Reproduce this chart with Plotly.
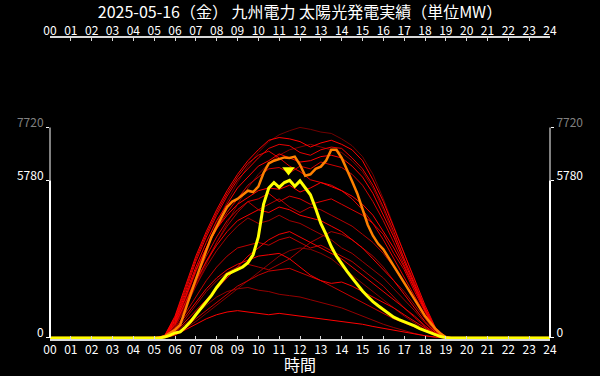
import plotly.graph_objects as go

# ---------------- data ----------------
hours = list(range(25))
hour_labels = [f"{h:02d}" for h in hours]

# half-hourly samples 05:00 .. 19:30 for past days (red lines)
t_half = [5.0 + 0.5 * i for i in range(30)]
# quarter-hourly samples 05:00 .. 19:30 for today / highlighted day
t_quarter = [5.0 + 0.25 * i for i in range(59)]

past_days = [
    [0,40,500,1400,2400,3300,4200,5000,5700,6300,6800,7200,7450,7600,7720,7650,7550,7500,7300,7050,6650,6000,5100,4100,3100,2100,1100,300,20,0],
    [0,30,400,1100,1900,2700,3500,4200,4900,5500,6000,6400,6700,6900,7000,7100,7000,6900,6800,6500,6100,5500,4700,3800,2900,2000,1100,320,20,0],
    [0,10,120,350,600,900,1200,1500,1800,2100,2400,2700,3000,3200,3300,3250,3100,2900,2600,2300,2000,1700,1400,1100,800,550,300,100,5,0],
    [0,15,180,500,850,1200,1500,1700,1800,1850,1750,1700,1600,1550,1500,1400,1300,1200,1100,950,800,650,500,380,260,160,80,25,0,0],
    [0,30,400,1100,1900,2600,3200,3700,4100,4400,4200,4300,4500,4300,4200,4000,3800,3600,3300,3100,2800,2500,2200,1800,1400,1000,550,180,10,0],
    [0,20,250,700,1200,1700,2100,2400,2600,2700,2600,2500,2700,2900,3200,3500,3700,3900,3800,3600,3300,3000,2600,2100,1700,1200,700,220,15,0],
    [0,40,450,1200,2000,2800,3500,4100,4600,5000,4700,4900,5100,4800,4600,4800,4700,4500,4300,4100,3800,3500,3100,2600,2000,1400,800,250,15,0],
    [0,30,350,900,1500,2100,2600,3000,3300,3400,3500,3400,3600,3700,3500,3300,3400,3200,3000,2800,2500,2200,1900,1500,1100,750,400,130,10,0],
    [0,15,150,400,700,1000,1300,1600,1900,2100,2300,2450,2500,2550,2400,2250,2100,1900,1700,1500,1300,1100,900,700,550,400,250,90,5,0],
    [0,50,550,1450,2450,3300,4000,4600,5100,5600,5900,6200,6250,6050,6300,6200,6450,6350,6250,6000,5600,5000,4300,3500,2700,1850,1000,300,20,0],
    [0,50,500,1300,2200,3000,3700,4300,4700,5000,5100,5300,5000,5200,5100,4900,5000,5100,4900,4700,4500,4200,3800,3100,2500,1700,950,300,20,0],
    [0,70,750,1800,2900,3800,4600,5300,5900,6400,6700,6850,6600,6300,6100,5800,5700,5600,5400,5100,4700,4200,3600,2900,2200,1500,850,260,20,0],
    [0,70,700,1700,2800,3700,4500,5200,5800,6200,6600,6950,7100,7050,6800,6700,6900,7000,6950,6600,6200,5600,4800,3900,2900,2000,1100,350,25,0],
    [0,20,200,600,1000,1400,1800,2200,2600,3000,3300,3600,3800,3900,3700,3500,3300,3100,2900,2600,2300,2000,1700,1400,1100,800,450,150,10,0],
    [0,30,300,800,1300,1800,2200,2500,2700,2850,3000,3050,3100,2900,2600,2300,2100,2000,2050,1900,1700,1500,1300,1100,850,600,350,120,10,0],
    [0,50,500,1300,2100,2800,3400,3900,4300,4500,4700,4600,4800,4700,4500,4400,4300,4100,3900,3600,3300,2900,2500,2100,1600,1100,600,200,15,0],
    [0,60,650,1600,2600,3500,4300,4900,5500,5900,6300,6500,6750,6600,6450,6500,6650,6700,6600,6300,5900,5300,4500,3700,2800,1900,1050,330,25,0],
    [0,60,600,1500,2500,3300,4000,4500,4900,5150,5400,5500,5450,5600,5350,5500,5700,5550,5400,5200,4900,4500,3900,3300,2600,1800,1000,300,20,0],
    [0,10,100,300,500,700,850,950,1000,950,900,850,900,850,800,750,700,650,600,550,500,420,350,280,200,140,80,30,0,0],
    [0,80,800,1900,3000,3900,4700,5400,6000,6500,6900,7250,7350,7300,7200,7000,7150,7250,7100,6900,6500,5800,5000,4050,3100,2150,1200,380,30,0],
]
past_colors = [
    "#700000", "#800000", "#8a0000", "#940000", "#a00000", "#aa0000", "#b40000",
    "#be0000", "#c80000", "#d20000", "#dc0000", "#e40000", "#ea0000", "#f00000",
    "#f50000", "#fa0000", "#ff0000", "#ff0000", "#ff0000", "#ff0000",
]

highlight_day = [0,10,60,180,300,480,1000,1600,2150,2700,3200,3700,4100,4450,4800,5000,
                 5100,5250,5400,5350,5550,6050,6400,6500,6560,6620,6600,6650,6350,5950,
                 6000,6200,6280,6500,6900,6900,6600,6200,5750,5300,4700,4150,3750,3450,
                 3250,2950,2650,2300,2050,1750,1450,1150,800,560,330,150,30,0,0]

today = [0,0,30,90,180,220,400,600,850,1080,1330,1560,1850,2080,2330,2420,2500,2600,
         2760,3050,3700,4900,5500,5700,5520,5700,5780,5560,5760,5500,5250,4750,4200,
         3800,3350,3000,2700,2450,2200,1950,1720,1520,1330,1180,1030,890,760,670,600,
         520,440,340,260,180,110,50,10,0,0]

title_text = "2025-05-16（金） 九州電力 太陽光発電実績（単位MW）"

# ---------------- figure ----------------
fig = go.Figure()

def pad(t, v):
    return [0.0] + list(t) + [24.0], [0] + list(v) + [0]

for vals, col in zip(past_days, past_colors):
    x, y = pad(t_half, vals)
    fig.add_trace(go.Scatter(x=x, y=y, mode="lines", line=dict(color=col, width=1),
                             hoverinfo="skip", showlegend=False))

x, y = pad(t_quarter, highlight_day)
fig.add_trace(go.Scatter(x=x, y=y, mode="lines", line=dict(color="#ff8000", width=2.5),
                         showlegend=False))
x, y = pad(t_quarter, today)
fig.add_trace(go.Scatter(x=x, y=y, mode="lines", line=dict(color="#ffff00", width=3),
                         showlegend=False))

today_max = max(today)
all_max = max(max(v) for v in past_days + [highlight_day, today])
peak_t = t_quarter[today.index(today_max)]

# triangle marker above today's peak (on overlay axes so top/right axes render)
fig.add_trace(go.Scatter(x=[peak_t - 0.05], y=[today_max * 1.065], mode="markers",
                         marker=dict(symbol="triangle-down", size=11, color="#ffff00"),
                         xaxis="x2", yaxis="y2", showlegend=False))

font_family = "Noto Sans CJK JP, Noto Sans, sans-serif"
ytickvals = [0, today_max, all_max]
yticktext = ["0", str(today_max), f'<span style="color:#808080">{all_max}</span>']

axis_x = dict(range=[0, 24], tickmode="array", tickvals=hours, ticktext=hour_labels,
              showline=True, linecolor="#d8d8d8", linewidth=2,
              ticklen=3, tickcolor="#d8d8d8", tickwidth=1, showgrid=False,
              zeroline=False, automargin=False,
              tickfont=dict(size=12, color="white", family=font_family))
axis_y = dict(range=[-40, 11000], tickmode="array", tickvals=ytickvals, ticktext=yticktext,
              showline=False, showgrid=False, zeroline=False, ticks="outside",
              ticklen=3, tickcolor="white", automargin=False, ticklabelshift=-5,
              tickfont=dict(size=12, color="white", family=font_family))

fig.update_layout(
    width=600, height=376,
    paper_bgcolor="black", plot_bgcolor="black",
    margin=dict(l=50, r=50, t=38, b=37),
    font=dict(family=font_family, color="white"),
    title=dict(text=title_text, x=0.5, xanchor="center", y=1 - 12 / 376, yanchor="middle",
               yref="container", font=dict(size=16, color="white", family=font_family)),
    xaxis=dict(**axis_x, ticks="inside", ticklabelstandoff=-1,
               title=dict(text="時間", font=dict(size=16, color="white"), standoff=14)),
    xaxis2=dict(**axis_x, ticks="inside", ticklabelstandoff=-4, overlaying="x", side="top"),
    yaxis=dict(**axis_y),
    yaxis2=dict(**axis_y, overlaying="y", side="right"),
    showlegend=False,
)

# two-tone y axis lines: white up to today's max, grey up to all-time max
for xp in (0, 1):
    fig.add_shape(type="line", xref="paper", yref="y", x0=xp, x1=xp, y0=0, y1=today_max,
                  line=dict(color="white", width=2))
    fig.add_shape(type="line", xref="paper", yref="y", x0=xp, x1=xp, y0=today_max, y1=all_max,
                  line=dict(color="#808080", width=2))

fig.write_html("out.html")
